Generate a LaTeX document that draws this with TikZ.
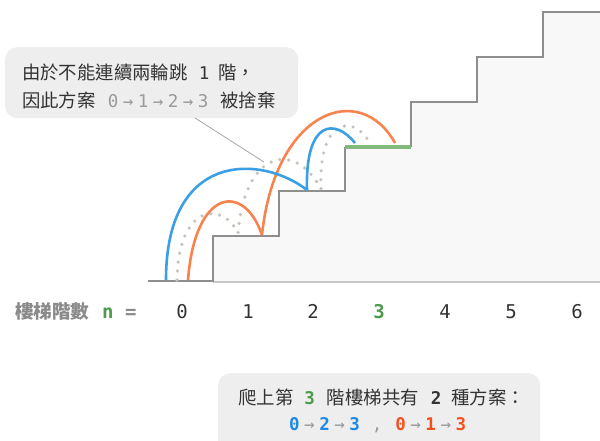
\documentclass[tikz,border=0pt]{standalone}
\usepackage{fontspec}
\newfontfamily\cjk{Noto Sans CJK TC}
\newfontfamily\mono{DejaVu Sans Mono}
\definecolor{stairline}{HTML}{8E8E8E}
\definecolor{stairfill}{HTML}{F8F8F8}
\definecolor{goalgreen}{HTML}{82BA7E}
\definecolor{arcblue}{HTML}{3B9FE3}
\definecolor{arcorange}{HTML}{F7834F}
\definecolor{dotgray}{HTML}{C8C2B9}
\definecolor{txtdark}{HTML}{333333}
\definecolor{txtgray}{HTML}{9A9A9A}
\definecolor{lblgray}{HTML}{8A8A8A}
\definecolor{txtgreen}{HTML}{4C9A4C}
\definecolor{txtblue}{HTML}{1E88E5}
\definecolor{txtorange}{HTML}{F4511E}
\definecolor{boxfill}{HTML}{EEEEEE}
\newcommand{\gs}{\hspace{4.5pt}}
\newcommand{\arr}{{\color{txtgray}\mdseries →}}
\begin{document}
\begin{tikzpicture}[x=1pt,y=-1pt,
  arc/.style={line width=2.6pt},
  dotarc/.style={line width=3.6pt, color=dotgray, line cap=round, dash pattern=on 0pt off 9pt},
  lbl/.style={inner sep=0pt, text=txtdark},
  numlbl/.style={inner sep=0pt, anchor=base, text=txtdark, font=\mono\fontsize{19}{22}\selectfont},
  bubble/.style={fill=boxfill, rounded corners=12pt, draw=none}]
\useasboundingbox (0,0) rectangle (600,441);
\clip (0,0) rectangle (600,441);
% stairs
\fill[stairfill] (213,282) -- (213,236) -- (279,236) -- (279,191) -- (345,191) -- (345,147) -- (411,147) -- (411,102) -- (477,102) -- (477,57) -- (543,57) -- (543,12) -- (600,12) -- (600,282) -- cycle;
\draw[color=black!22, line width=1.2pt] (213,282) -- (600,282);
\draw[stairline, line width=2pt] (148,281) -- (213,281) -- (213,236) -- (279,236) -- (279,191) -- (345,191) -- (345,147);
\draw[stairline, line width=2pt] (411,147) -- (411,102) -- (477,102) -- (477,57) -- (543,57) -- (543,12) -- (600,12);
\draw[goalgreen, line width=4.5pt] (345,147) -- (411,147);
% jump points
\coordinate (b0) at (166,280);
\coordinate (b2) at (307,190);
\coordinate (b3) at (355,143);
\coordinate (o0) at (188,280);
\coordinate (o1) at (262,235);
\coordinate (o3) at (395,143);
\coordinate (d0) at (177,280);
\coordinate (d1) at (238,233);
\coordinate (d2) at (321,189);
\coordinate (d3) at (370,143);
% dotted path (discarded)
\draw[dotarc] (d0) .. controls (178,205) and (222,200) .. (d1)
  .. controls (245,150) and (295,140) .. (d2)
  .. controls (318,120) and (352,112) .. (d3);
% callout pointer end
\coordinate (ptr) at (264,162);
% orange path
\draw[arc, arcorange] (o0) .. controls (195,188) and (244,182) .. (o1);
\draw[arc, arcorange] (o1) .. controls (275,110) and (360,80) .. (o3);
% blue path
\draw[arc, arcblue] (b0) .. controls (166,150) and (262,155) .. (b2);
\draw[arc, arcblue] (b2) .. controls (305,120) and (335,118) .. (b3);
% callout
\node[bubble, minimum width=293pt, minimum height=71pt, anchor=north west] (callout) at (5,47) {};
\draw[color=black!35, line width=0.8pt] (195,118) -- (ptr);
\node[lbl, anchor=west] (c1) at (22,72) {\cjk\fontsize{18.4}{22}\selectfont 由於不能連續兩輪跳\hspace{11pt}{\mono\fontsize{17.5}{20}\selectfont 1}\hspace{9pt}階，};
\node[lbl, anchor=west] (c2) at (22,100) {\cjk\fontsize{18.4}{22}\selectfont 因此方案\hspace{12pt}{\mono\fontsize{17.5}{20}\selectfont\color{txtgray}0\gs→\gs 1\gs→\gs 2\gs→\gs 3}\hspace{12pt}被捨棄};
% labels row
\node[inner sep=0pt, anchor=west, text=lblgray] (ttl) at (15,311) {\cjk\bfseries\fontsize{18.6}{22}\selectfont 樓梯階數};
\node[inner sep=0pt, anchor=base west, text=txtgreen] (nl) at (102,318) {\mono\bfseries\fontsize{19}{22}\selectfont n};
\node[inner sep=0pt, anchor=base west, text=lblgray] (eq) at (125,318) {\mono\bfseries\fontsize{19}{22}\selectfont =};
\node[numlbl] (n0) at (182,318) {0};
\node[numlbl] (n1) at (248,318) {1};
\node[numlbl] (n2) at (313,318) {2};
\node[numlbl, text=txtgreen, font=\mono\bfseries\fontsize{19}{22}\selectfont] (n3) at (379,318) {3};
\node[numlbl] (n4) at (445,318) {4};
\node[numlbl] (n5) at (511,318) {5};
\node[numlbl] (n6) at (577,318) {6};
% bottom box
\node[bubble, minimum width=322pt, minimum height=80pt, anchor=north west] (summary) at (218,373) {};
\node[lbl, anchor=west] (s1) at (238,397) {\cjk\fontsize{18.4}{22}\selectfont 爬上第\hspace{11pt}{\mono\bfseries\fontsize{17.5}{20}\selectfont\color{txtgreen}3}\hspace{12pt}階樓梯共有\hspace{12pt}{\mono\bfseries\fontsize{17.5}{20}\selectfont 2}\hspace{10pt}種方案：};
\node[lbl, anchor=west] (s2) at (289,425) {\mono\bfseries\fontsize{17.5}{20}\selectfont {\color{txtblue}0}\gs\arr\gs{\color{txtblue}2}\gs\arr\gs{\color{txtblue}3}\hspace{12pt}{\color{txtgray}\mdseries,}\hspace{13pt}{\color{txtorange}0}\gs\arr\gs{\color{txtorange}1}\gs\arr\gs{\color{txtorange}3}};
\end{tikzpicture}
\end{document}
